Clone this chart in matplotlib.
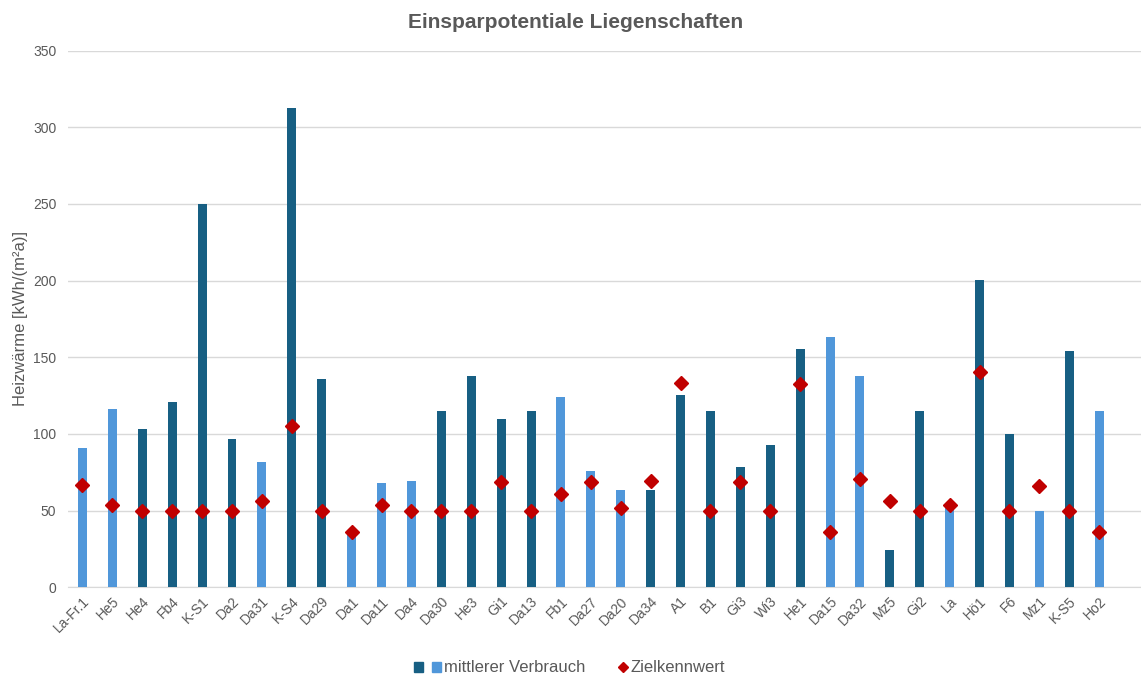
#!/usr/bin/env python3
"""Einsparpotentiale Liegenschaften - Balken mit Zielkennwerten."""

import matplotlib

matplotlib.use("Agg")
import matplotlib.pyplot as plt
from matplotlib.legend_handler import HandlerTuple
from matplotlib.patches import Patch
from matplotlib.lines import Line2D
import numpy as np

liegenschaften = [
    "La-Fr.1", "He5", "He4", "Fb4", "K-S1", "Da2", "Da31", "K-S4", "Da29",
    "Da1", "Da11", "Da4", "Da30", "He3", "Gi1", "Da13", "Fb1", "Da27",
    "Da20", "Da34", "A1", "B1", "Gi3", "Wi3", "He1", "Da15", "Da32", "Mz5",
    "Gi2", "La", "Hö1", "F6", "Mz1", "K-S5", "Ho2",
]

verbrauch = [
    91, 116.5, 103.5, 121, 250, 97, 81.5, 312.5, 135.5,
    34, 68, 69.5, 115, 138, 110, 115, 124, 76,
    63.5, 63.5, 125.5, 115, 78.5, 93, 155.5, 163.5, 138, 24.5,
    115, 52, 200.5, 100, 50, 154, 115,
]

zielkennwert = [
    67, 53.5, 50, 50, 50, 50, 56.5, 105, 50,
    36, 53.5, 49.5, 50, 50, 68.5, 50, 60.5, 68.5,
    52, 69.5, 133.5, 50, 68.5, 50, 132.5, 36, 70.5, 56,
    50, 53.5, 140.5, 50, 66, 50, 36,
]

# Gruppe: "h" = hell, "d" = dunkel
gruppe = [
    "h", "h", "d", "d", "d", "d", "h", "d", "d",
    "h", "h", "h", "d", "d", "d", "d", "h", "h",
    "h", "d", "d", "d", "d", "d", "d", "h", "h", "d",
    "d", "h", "d", "d", "h", "d", "h",
]

DUNKEL = "#175f83"
HELL = "#5097da"
ROT = "#c00000"
GRAU = "#595959"
GITTER = "#d9d9d9"

plt.rcParams["font.family"] = ["Liberation Sans", "DejaVu Sans"]

fig = plt.figure(figsize=(11.41, 6.75), dpi=100)
ax = fig.add_axes([0.0592, 0.130, 0.9408, 0.795])

x = np.arange(len(liegenschaften))
farben = [HELL if g == "h" else DUNKEL for g in gruppe]
ax.bar(x, verbrauch, width=0.3, color=farben, zorder=2)
ax.plot(x, zielkennwert, linestyle="none", marker="D", markersize=7,
        color=ROT, zorder=3)

ax.set_ylim(0, 350)
ax.set_xlim(-0.5, 35.4)
ax.set_yticks(np.arange(0, 351, 50))
ax.set_xticks(x)
ax.set_xticklabels(liegenschaften, rotation=45, ha="right",
                   rotation_mode="anchor")
ax.tick_params(axis="both", length=0, labelsize=10, colors=GRAU)
ax.tick_params(axis="x", pad=5)
ax.tick_params(axis="y", pad=8)
ax.grid(axis="y", color=GITTER, linewidth=1, zorder=0)
for s in ("top", "right", "left"):
    ax.spines[s].set_visible(False)
ax.spines["bottom"].set_color(GITTER)
ax.spines["bottom"].set_zorder(1)

ax.set_ylabel("Heizwärme [kWh/(m²a)]", fontsize=12, color=GRAU)
ax.yaxis.set_label_coords(-0.037, 0.5)

fig.text(0.5044, 1 - 28.5 / 675, "Einsparpotentiale Liegenschaften",
         ha="center", va="baseline", fontsize=15, fontweight="bold",
         color=GRAU)

leer = Line2D([], [], linestyle="none", marker="none")
raute = Line2D([], [], linestyle="none", marker="D", markersize=5.5,
               color=ROT)
handles = [
    (Patch(color=DUNKEL), Patch(color=HELL)),
    (leer, raute),
]
leg = fig.legend(handles, ["mittlerer Verbrauch", "Zielkennwert"],
                 handler_map={tuple: HandlerTuple(ndivide=None, pad=0.54)},
                 loc="center", ncol=2, frameon=False, fontsize=12,
                 labelcolor=GRAU, handlelength=1.6, handleheight=0.55,
                 columnspacing=0.9, handletextpad=0.2, borderpad=0,
                 borderaxespad=0)
leg.set_bbox_to_anchor((0.499, 1 - 668 / 675), transform=fig.transFigure)

fig.savefig("out.png", dpi=100)
